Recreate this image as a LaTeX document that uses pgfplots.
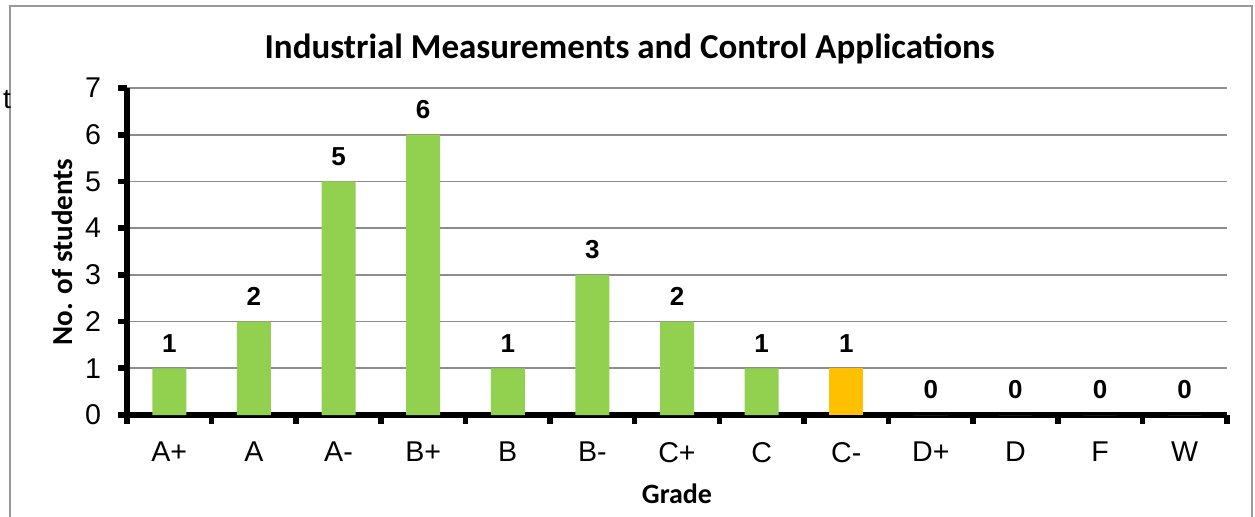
\documentclass[border=0pt]{standalone}
\usepackage{pgfplots}
\pgfplotsset{compat=1.18}
\usepackage{fontspec}
\setmainfont{Liberation Sans}
\newfontfamily\carlito{Carlito}
\definecolor{bargreen}{HTML}{92D050}
\definecolor{barorange}{HTML}{FFC000}
\definecolor{gridgray}{HTML}{8C8C8C}
\definecolor{framegray}{HTML}{9A9A9A}
\begin{document}
\begin{tikzpicture}
\useasboundingbox (0pt,0pt) rectangle (627.5pt,-258pt);
\draw[framegray, line width=0.9pt] (5pt,-265pt) -- (5pt,-3pt) -- (626pt,-3pt) -- (626pt,-265pt);
\node[font=\fontsize{14}{16}\selectfont] at (3.5pt,-50pt) {t};
\begin{axis}[
  at={(63.5pt,-207.5pt)}, anchor=south west,
  scale only axis, width=550pt, height=163.5pt,
  xmin=-0.5, xmax=12.5, ymin=0, ymax=7,
  axis x line*=bottom, axis y line*=left,
  axis line style={line width=3pt, -},
  xtick={-0.5,0.5,...,12.5},
  xticklabels={},
  extra x ticks={0,1,...,12},
  extra x tick labels={A+,A,A-,B+,B,B-,C+,C,C-,D+,D,F,W},
  extra x tick style={major tick length=0pt, grid=none, tick label style={yshift=-10pt}},
  ytick={0,1,...,7},
  tick style={line width=2.8pt, black},
  major tick length=4.5pt,
  tick align=outside,
  ymajorgrids=true,
  grid style={gridgray, line width=0.8pt},
  tick label style={font=\fontsize{14.3}{16}\selectfont},
  /pgf/number format/assume math mode=true,
  yticklabel style={xshift=-5pt},
  ybar, bar width=17pt,
  title={\carlito\bfseries Industrial Measurements and Control Applications},
  title style={at={(axis description cs:0.457,1.082)}, anchor=center, font=\fontsize{17.5}{20}\selectfont},
  xlabel={\carlito\bfseries Grade},
  xlabel style={at={(axis description cs:0.5,-0.2416)}, anchor=center, font=\fontsize{14}{16}\selectfont},
  ylabel={\carlito\bfseries No. of students},
  ylabel style={at={(axis description cs:-0.059,0.498)}, anchor=center, rotate=0, font=\fontsize{14.5}{16}\selectfont},
  nodes near coords,
  nodes near coords style={font=\fontsize{13}{15}\selectfont\bfseries, anchor=center, yshift=12.5pt, /pgf/number format/assume math mode=true},
  clip=false,
]
\addplot[fill=bargreen, draw=none, bar shift=0pt] coordinates {
(0,1) (1,2) (2,5) (3,6) (4,1) (5,3) (6,2) (7,1) (9,0) (10,0) (11,0) (12,0)};
\addplot[fill=barorange, draw=none, bar shift=0pt] coordinates {(8,1)};
\end{axis}
\end{tikzpicture}
\end{document}
